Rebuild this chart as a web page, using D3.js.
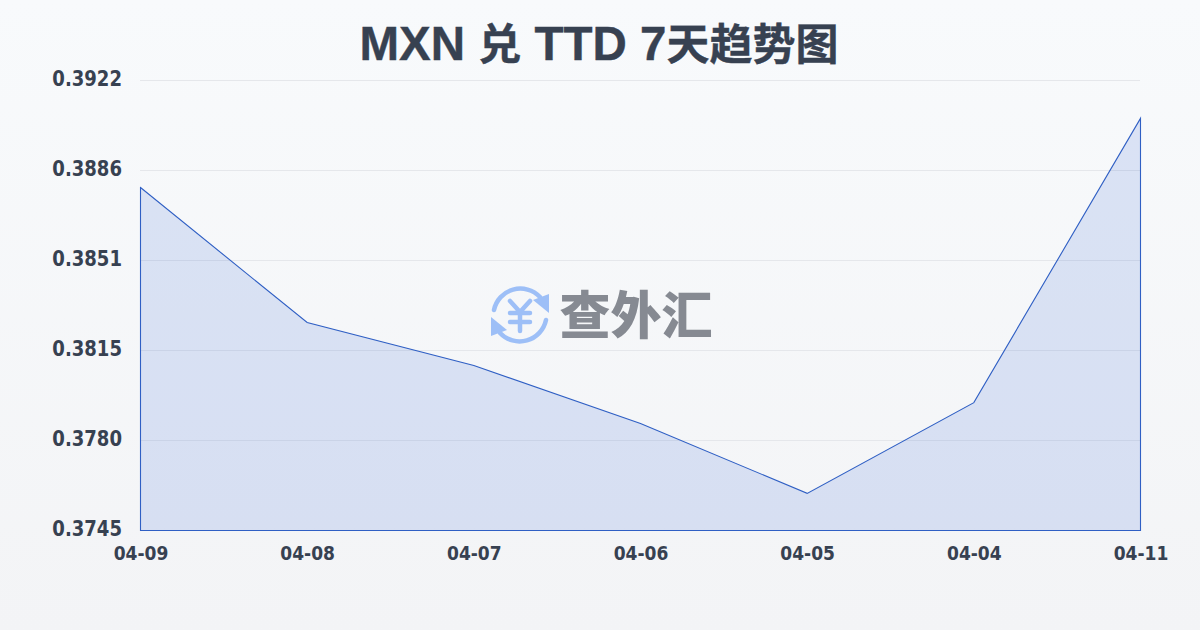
<!DOCTYPE html>
<html><head><meta charset="utf-8">
<script src="https://cdn.jsdelivr.net/npm/d3@7/dist/d3.min.js"></script>
<style>html,body{margin:0;padding:0;background:#f5f7fa}svg{display:block}</style>
</head><body><svg id="c" width="1200" height="630"></svg>
<script>
const titleRuns = [["MXN ",47.5],["兑",43],[" TTD 7",47.5],["天趋势图",43]];
const categories = ["04-09","04-08","04-07","04-06","04-05","04-04","04-11"];
const rates = [0.38799,0.38268,0.38099,0.37871,0.37596,0.37953,0.39071];
const tickValues = [0.3922,0.38866,0.38512,0.38158,0.37804,0.3745];
const tickLabels = ["0.3922","0.3886","0.3851","0.3815","0.3780","0.3745"];
const watermarkText = "查外汇";

const svg = d3.select("#c");
const defs = svg.append("defs");
const bg = defs.append("linearGradient").attr("id","bg").attr("x1",0).attr("y1",0).attr("x2",0).attr("y2",1);
bg.append("stop").attr("offset",0).attr("stop-color","#f8fafc");
bg.append("stop").attr("offset",1).attr("stop-color","#f3f4f6");
svg.append("rect").attr("width",1200).attr("height",630).attr("fill","url(#bg)");

const x = d3.scalePoint().domain(categories).range([140.5,1140.5]);
const y = d3.scaleLinear().domain([0.3745,0.3922]).range([530.5,80.5]);
const FONT = "'DejaVu Sans',sans-serif";

svg.append("g").selectAll("line").data(tickValues).join("line")
  .attr("x1",140).attr("x2",1140).attr("y1",d=>y(d)).attr("y2",d=>y(d))
  .attr("stroke","#e5e7eb").attr("stroke-width",1);

// watermark
const wm = svg.append("g").attr("transform","translate(520,315)");
const blue="#9dbff7";
wm.append("path").attr("d","M-26,-5 A27,27 0 0 1 20,-18").attr("fill","none").attr("stroke",blue).attr("stroke-width",4.5).attr("stroke-linecap","round");
wm.append("path").attr("d","M26,5 A27,27 0 0 1 -20,18").attr("fill","none").attr("stroke",blue).attr("stroke-width",4.5).attr("stroke-linecap","round");
wm.append("path").attr("d","M13,-15 L29,-21 L29,-2 Z").attr("fill",blue);
wm.append("path").attr("d","M-13,15 L-29,21 L-29,2 Z").attr("fill",blue);
wm.append("path").attr("d","M-10,-14 L0,-3 L10,-14 M-10,-2 H10 M-10,7 H10 M0,-3 V16").attr("fill","none").attr("stroke",blue).attr("stroke-width",4.5).attr("stroke-linecap","round").attr("stroke-linejoin","round");
svg.append("text").attr("x",636).attr("y",334).attr("text-anchor","middle")
  .attr("font-family","'Noto Sans CJK SC'").attr("font-weight",900).attr("font-size",51)
  .attr("fill","#868a92").text(watermarkText);

const area = d3.area().x((d,i)=>x(categories[i])).y0(y.range()[0]).y1(d=>y(d));
svg.append("path").datum(rates).attr("d",area).attr("fill","#2c5fd6").attr("fill-opacity",0.14)
  .attr("stroke","#2f5fc4").attr("stroke-width",1.1);

const yA = d3.axisLeft(y).tickValues(tickValues).tickFormat((d,i)=>tickLabels[i]).tickSize(0);
const yG = svg.append("g").attr("transform","translate(122,0)").call(yA);
yG.select(".domain").remove();
yG.selectAll("text").attr("x",0).attr("dy","0").attr("y",5).attr("transform","scale(0.89,1)").attr("font-family",FONT).attr("font-weight",700).attr("font-size",20.3).attr("fill","#374151").attr("text-anchor","end");

const xA = d3.axisBottom(x).tickSize(0);
const xG = svg.append("g").attr("transform","translate(0,530)").call(xA);
xG.select(".domain").remove();
xG.selectAll("text").attr("x",0).attr("y",30).attr("dy","0").attr("transform","scale(0.9,1)").attr("font-family",FONT).attr("font-weight",700).attr("font-size",19).attr("fill","#374151").attr("text-anchor","middle");

svg.append("text").attr("x",599).attr("y",60).attr("text-anchor","middle")
  .attr("font-family","'Liberation Sans','Noto Sans CJK SC',sans-serif").attr("font-weight",700)
  .attr("fill","#374151").attr("stroke","#374151").attr("stroke-width",0.4).style("white-space","pre")
  .selectAll("tspan").data(titleRuns).join("tspan").attr("font-size",d=>d[1]).text(d=>d[0]);
</script></body></html>
